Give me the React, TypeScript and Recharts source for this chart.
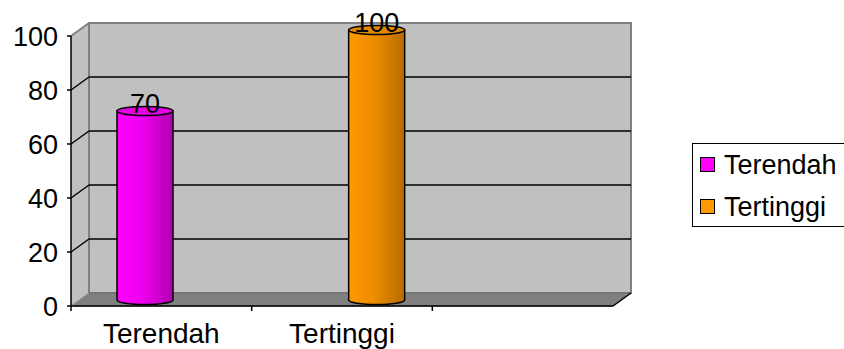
import React from 'react';
import { BarChart, Bar, XAxis, YAxis, ReferenceArea, LabelList, Legend } from 'recharts';

const categories = ['Terendah', 'Tertinggi', ''];
const seriesNames = ['Terendah', 'Tertinggi'];
const terendahValues = [70, null, null];
const tertinggiValues = [null, 100, null];
const yTicks = [0, 20, 40, 60, 80, 100];

const seriesColors: Record<string, { light: string; mid: string; dark: string; top: string }> = {
  Terendah: { light: '#ff00ff', mid: '#ee00ee', dark: '#b000b0', top: '#e600e6' },
  Tertinggi: { light: '#ff9900', mid: '#ee8c00', dark: '#b86c00', top: '#e08800' },
};

const data = categories.map((name, i) => ({
  name,
  Terendah: terendahValues[i],
  Tertinggi: tertinggiValues[i],
}));

const FONT = '"Liberation Sans", Arial, sans-serif';
const DX = 18;
const DY = 13;
const BDX = 9;
const BDY = 6;

const Walls = (props: any) => {
  const { x, y, width, height } = props;
  const left = x;
  const right = x + width;
  const top = y;
  const bottom = y + height;
  const lines = yTicks.filter((t) => t !== 0 && t !== 100).map((t) => bottom - (height * t) / 100);
  const n = categories.length;
  return (
    <g>
      <polygon
        points={`${left},${top} ${left + DX},${top - DY} ${left + DX},${bottom - DY} ${left},${bottom}`}
        fill="#c0c0c0"
      />
      <rect x={left + DX} y={top - DY} width={width} height={height} fill="#c0c0c0" stroke="#808080" strokeWidth={2} />
      <line x1={left} y1={top} x2={left + DX} y2={top - DY} stroke="#808080" strokeWidth={2} />
      {lines.map((ly, i) => (
        <g key={i}>
          <line x1={left} y1={ly} x2={left + DX} y2={ly - DY} stroke="#000" strokeWidth={1.5} />
          <line x1={left + DX} y1={ly - DY} x2={right + DX} y2={ly - DY} stroke="#000" strokeWidth={1.5} />
        </g>
      ))}
      <polygon
        points={`${left},${bottom} ${right},${bottom} ${right + DX},${bottom - DY} ${left + DX},${bottom - DY}`}
        fill="#808080"
        stroke="#6a6a6a"
        strokeWidth={1}
      />
      <line x1={left} y1={bottom} x2={left + DX} y2={bottom - DY} stroke="#a0a0a0" strokeWidth={1} />
      <line x1={right} y1={bottom} x2={right + DX} y2={bottom - DY} stroke="#000" strokeWidth={1.5} />
      {Array.from({ length: n }).map((_, i) => {
        const tx = left + (width * i) / n;
        return <line key={'t' + i} x1={tx} y1={bottom} x2={tx} y2={bottom + 5} stroke="#000" strokeWidth={1.5} />;
      })}
    </g>
  );
};

const makeCylinder = (key: string) => (props: any) => {
  const { x, y, width, height, value } = props;
  if (value == null || !height || height <= 0) return null;
  const c = seriesColors[key];
  const x0 = x + BDX;
  const y0 = y - BDY;
  const rx = width / 2;
  const ry = 4.5;
  const gid = 'grad-' + key;
  const d = `M ${x0} ${y0} L ${x0} ${y0 + height} A ${rx} ${ry} 0 0 0 ${x0 + width} ${y0 + height} L ${x0 + width} ${y0} Z`;
  return (
    <g>
      <defs>
        <linearGradient id={gid} x1="0" y1="0" x2="1" y2="0">
          <stop offset="0" stopColor={c.light} />
          <stop offset="0.45" stopColor={c.mid} />
          <stop offset="1" stopColor={c.dark} />
        </linearGradient>
      </defs>
      <path d={d} fill={`url(#${gid})`} stroke="#000" strokeWidth={1.5} />
      <ellipse cx={x0 + rx} cy={y0} rx={rx} ry={ry} fill={c.top} stroke="#000" strokeWidth={1.5} />
    </g>
  );
};

const makeLabel = () => (props: any) => {
  const { x, y, width, value } = props;
  if (value == null) return null;
  return (
    <text x={x + width / 2 + BDX} y={y - 4} textAnchor="middle" fontFamily={FONT} fontSize={27} fill="#000">
      {value}
    </text>
  );
};

const LegendContent = () => (
  <div style={{ position: 'relative', width: 152, height: 84, boxSizing: 'border-box', borderTop: '1px solid #000', borderBottom: '1px solid #000', borderLeft: '1px solid #000', background: '#fff', overflow: 'hidden' }}>
    {seriesNames.map((s, i) => (
      <React.Fragment key={s}>
        <div style={{ position: 'absolute', left: 7, top: 13 + i * 42, width: 15, height: 15, boxSizing: 'border-box', border: '1px solid #000', background: seriesColors[s].light }} />
        <div style={{ position: 'absolute', left: 31, top: 6 + i * 42, height: 30, lineHeight: '30px', fontFamily: FONT, fontSize: 27, color: '#000', whiteSpace: 'nowrap' }}>
          {s}
        </div>
      </React.Fragment>
    ))}
  </div>
);

export default function App() {
  return (
    <div style={{ position: 'absolute', left: 0, top: 0, width: 844, height: 349, background: '#fff' }}>
      <BarChart
        width={844}
        height={349}
        data={data}
        margin={{ top: 36, right: 231, bottom: 0, left: 0 }}
        barSize={56}
        barGap={-5}
        barCategoryGap={0}
      >
        <XAxis
          dataKey="name"
          height={43}
          tickLine={false}
          tickSize={0}
          tickMargin={17}
          axisLine={{ stroke: '#000', strokeWidth: 1.5 }}
          tick={{ fill: '#000', fontFamily: FONT, fontSize: 28 }}
          interval={0}
        />
        <YAxis
          width={71}
          domain={[0, 100]}
          ticks={yTicks}
          tickSize={4}
          tickMargin={9}
          axisLine={{ stroke: '#000', strokeWidth: 1.5 }}
          tickLine={{ stroke: '#000', strokeWidth: 1.5 }}
          tick={{ fill: '#000', fontFamily: FONT, fontSize: 27 }}
          interval={0}
        />
        <ReferenceArea y1={0} y2={100} shape={(p: any) => <Walls {...p} />} zIndex={-100} ifOverflow="visible" />
        <Legend
          layout="vertical"
          align="center"
          verticalAlign="middle"
          content={() => <LegendContent />}
          wrapperStyle={{ position: 'absolute', left: 692, top: 143, width: 152, height: 84 }}
        />
        <Bar dataKey="Terendah" isAnimationActive={false} shape={makeCylinder('Terendah')}>
          <LabelList dataKey="Terendah" content={makeLabel()} />
        </Bar>
        <Bar dataKey="Tertinggi" isAnimationActive={false} shape={makeCylinder('Tertinggi')}>
          <LabelList dataKey="Tertinggi" content={makeLabel()} />
        </Bar>
      </BarChart>
    </div>
  );
}
